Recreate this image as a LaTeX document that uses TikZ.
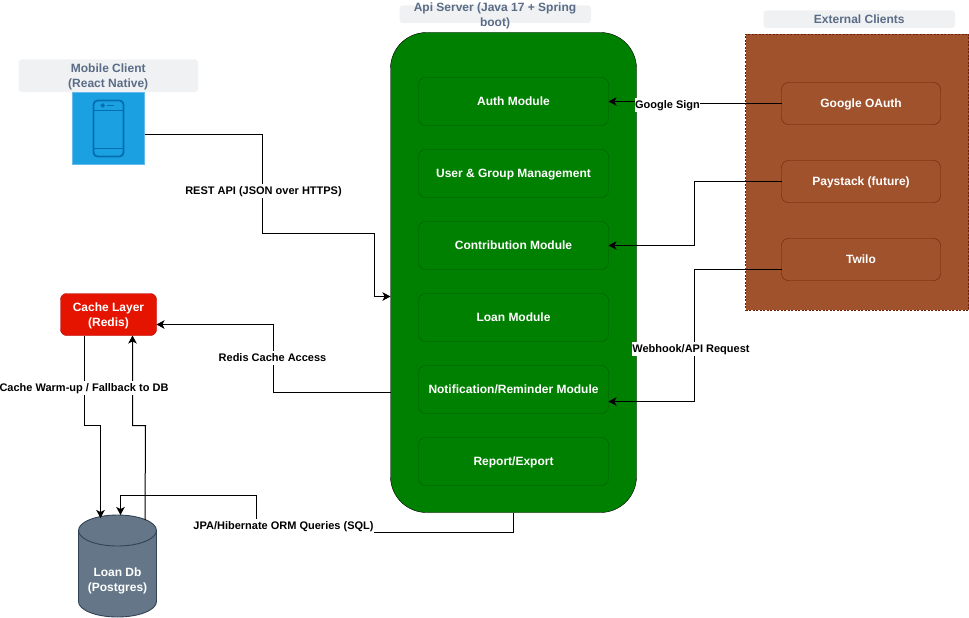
\documentclass[tikz,border=0pt]{standalone}
\usepackage{fontspec}
\setmainfont{Liberation Sans}
\usetikzlibrary{arrows.meta,calc}
\definecolor{lblbg}{HTML}{EFF1F3}
\definecolor{lbltx}{HTML}{5A6C86}
\definecolor{srv}{HTML}{008000}
\definecolor{srvline}{HTML}{005700}
\definecolor{ext}{HTML}{A0522D}
\definecolor{extline}{HTML}{6D1F00}
\definecolor{phonebg}{HTML}{1BA1E2}
\definecolor{phoneln}{HTML}{006EAF}
\definecolor{phoneedge}{HTML}{66BBEB}
\definecolor{cache}{HTML}{E51400}
\definecolor{cacheln}{HTML}{B20000}
\definecolor{dbfill}{HTML}{647687}
\definecolor{dbline}{HTML}{314354}
\newcommand\downstrut{\rule{0pt}{10.7pt}}
\tikzset{
  x=1pt,y=-1pt,
  every node/.style={font=\fontsize{12}{15}\selectfont\bfseries,inner sep=0pt,outer sep=0pt,align=center},
  lane/.style={fill=lblbg,rounded corners=3pt,text=lbltx},
  oneline/.style={text height=8.5pt,text depth=0.5pt},
  modbox/.style={oneline,draw=srvline,fill=srv,rounded corners=7pt,text=white,minimum width=190pt,minimum height=48pt},
  extbox/.style={oneline,draw=extline,fill=ext,rounded corners=7pt,text=white,minimum width=159pt,minimum height=42pt},
  conn/.style={draw=black,line width=1pt,-{Stealth[length=8pt,width=8.5pt,inset=2pt]}},
  lbl/.style={oneline,fill=white,text=black,inner xsep=0.6pt,minimum height=14pt,font=\fontsize{11}{14}\selectfont\bfseries},
}
\begin{document}
\begin{tikzpicture}
\useasboundingbox (0,0) rectangle (969,618);
% swimlane captions
\node[lane,minimum width=179.5pt,minimum height=32.5pt] (mobilelbl) at (108.25,75.75) {\downstrut Mobile Client\\(React Native)};
\node[lane,minimum width=191.5pt,minimum height=17.5pt] (apilbl) at (495.25,14.25) {};
\node[text=lbltx] (apitxt) at (495,15.5) {Api Server (Java 17 + Spring\\boot)};
\node[lane,oneline,minimum width=191.5pt,minimum height=17.5pt] (extlbl) at (859.25,19.25) {External Clients};
% phone
\node[draw=phoneedge,fill=phonebg,minimum width=72pt,minimum height=72pt] (phone) at (108.5,128.5) {};
\draw[phoneln,line width=1.8pt,rounded corners=4pt] (93.5,100.5) rectangle (123.5,156.5);
\draw[phoneln,line width=1.8pt] (93.5,110.5) -- (123.5,110.5) (93.5,148.5) -- (123.5,148.5) (107,105.5) -- (114,105.5);
\draw[phoneln,line width=1.4pt] (102.7,105.5) circle[radius=1.4pt];
% server
\node[draw=black,fill=srv,rounded corners=36pt,minimum width=246pt,minimum height=480pt] (server) at (513.5,272.5) {};
\node[modbox] (auth) at (513.5,101.5) {Auth Module};
\node[modbox] (user) at (513.5,173.5) {User \& Group Management};
\node[modbox] (contrib) at (513.5,245.5) {Contribution Module};
\node[modbox] (loan) at (513.5,317.5) {Loan Module};
\node[modbox] (notif) at (513.5,389.5) {Notification/Reminder Module};
\node[modbox] (report) at (513.5,461.5) {Report/Export};
% external
\node[draw=extline,dashed,dash pattern=on 2pt off 1.5pt,fill=ext,minimum width=223pt,minimum height=276pt] (extgrp) at (857,172) {};
\node[extbox] (google) at (861,103.5) {Google OAuth};
\node[extbox] (paystack) at (861,181.5) {Paystack (future)};
\node[extbox] (twilio) at (861,259.5) {Twilo};
% cache
\node[draw=cacheln,fill=cache,rounded corners=6pt,text=white,minimum width=96pt,minimum height=42pt] (cache) at (108.5,314.5) {\downstrut Cache Layer\\(Redis)};
% database
\draw[dbline,fill=dbfill,line width=0.9pt] (78.5,530.5) arc[start angle=180,end angle=360,x radius=39,y radius=15.5] -- (156.5,601.5) arc[start angle=0,end angle=180,x radius=39,y radius=15.5] -- cycle;
\draw[dbline,line width=0.9pt] (78.5,530.5) arc[start angle=180,end angle=0,x radius=39,y radius=15.5];
\node[minimum width=78pt,minimum height=102pt] (db) at (117.5,566) {};
\node[text=white] (dbtxt) at (117.5,580.5) {Loan Db\\(Postgres)};
% connectors
\coordinate (restA) at ($(phone.east)+(0,6)$);
\coordinate (restB) at ($(server.west)+(0,24)$);
\draw[conn] (restA) -- (262.5,134.5) -- (262.5,233.5) -- (374.5,233.5) -- (374.5,296.5) -- (restB);
\draw[conn] (google.west) -- (667,103.5) -- (667,101.5) -- (auth.east);
\draw[conn] (paystack.west) -- (694.5,181.5) -- (694.5,245.5) -- (contrib.east);
\coordinate (twA) at ($(twilio.west)+(0,10)$);
\draw[conn] (twA) -- (694.5,269.5) -- (694.5,401.5) -- ($(notif.east)+(0,12)$);
\coordinate (rdA) at ($(server.west)+(0,120)$);
\coordinate (rdB) at ($(cache.east)+(0,10)$);
\draw[conn] (rdA) -- (273.5,392.5) -- (273.5,324.5) -- (rdB);
\coordinate (cdA) at ($(cache.south)+(-24,0)$);
\coordinate (cdB) at ($(db.north)+(-17,3)$);
\draw[conn] (cdA) -- (84.5,425.5) -- (100.5,425.5) -- (cdB);
\coordinate (dcA) at ($(db.north)+(27.5,5)$);
\coordinate (dcB) at ($(cache.south)+(24,0)$);
\draw[conn] (dcA) -- (145.5,425.5) -- (132.5,425.5) -- (dcB);
\draw[conn] (server.south) -- (513.5,532.5) -- (372,532.5) -- (372,522) -- (256.5,522) -- (256.5,495.5) -- (120.5,495.5) -- ($(db.north)+(3,0)$);
% connector labels
\node[lbl] (l1) at (263.5,190.5) {REST API (JSON over HTTPS)};
\node[lbl] (l2) at (667.5,104.5) {Google Sign};
\node[lbl] (l3) at (691,348.5) {Webhook/API Request};
\node[lbl] (l4) at (272.5,357.5) {Redis Cache Access};
\node[lbl] (l5) at (84,387.5) {Cache Warm-up / Fallback to DB};
\node[lbl] (l6) at (283.5,525.5) {JPA/Hibernate ORM Queries (SQL)};
\end{tikzpicture}
\end{document}
